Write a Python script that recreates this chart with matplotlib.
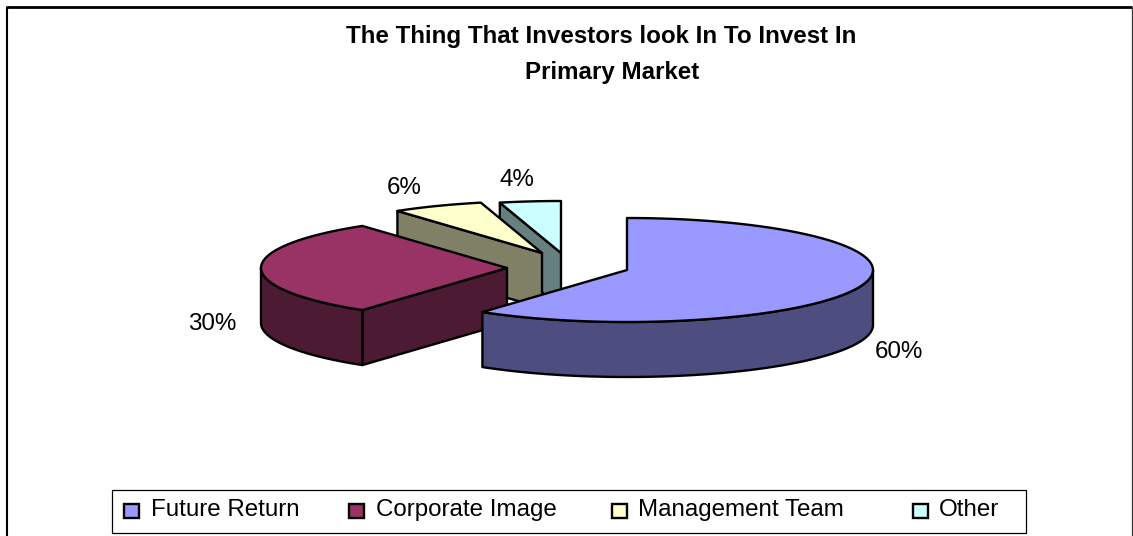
# plot.py
import numpy as np
import matplotlib
matplotlib.use("Agg")
import matplotlib.pyplot as plt
from matplotlib.patches import Polygon, Rectangle

plt.rcParams['font.family'] = ['Liberation Sans', 'DejaVu Sans']

categories = ["Future Return", "Corporate Image", "Management Team", "Other"]
values = [60, 30, 6, 4]
percent_labels = ["60%", "30%", "6%", "4%"]
title_lines = ["The Thing That Investors look In To Invest In", "Primary Market"]

top_colors = ["#9999FF", "#993366", "#FFFFCC", "#CCFFFF"]
side_colors = ["#4D4D80", "#4D1A33", "#808066", "#668080"]

# layout in pixels of the original image
centers = [(627, 270), (507, 268), (542, 253), (561, 253)]
RX, RY, DEPTH = 246, 52, 55
label_pos = [(899, 352), (212, 324), (404, 188), (517, 180)]
swatch_x = [124, 349, 612, 913]
text_x = [151, 376, 638, 939]
EDGE = 1.7


def rim(cx, cy, a0, a1, dy=0):
    # angles run clockwise from 12 o'clock, in degrees
    t = np.radians(np.linspace(a0, a1, 80))
    return np.column_stack([cx + RX * np.sin(t), cy + dy - RY * np.cos(t)])


fig = plt.figure(figsize=(11.33, 5.36), dpi=100)
ax = fig.add_axes([0, 0, 1, 1])
ax.set_xlim(0, 1133)
ax.set_ylim(536, 0)
ax.axis("off")

# chart frame, bottom edge is cut off in the picture
ax.plot([6.5, 6.5], [540, 7], color="black", lw=1.5, solid_capstyle="butt")
ax.plot([5.5, 1132], [7, 7], color="black", lw=2, solid_capstyle="butt")
ax.plot([1131.5, 1131.5], [7, 540], color="#333333", lw=0.9, solid_capstyle="butt")

stops = np.cumsum([0] + values) * 3.6

# back slices first so that the big one covers them
for i in reversed(range(len(values))):
    a0, a1 = stops[i], stops[i + 1]
    cx, cy = centers[i]
    z = 10 + (len(values) - i)

    # flat cut face, only the one turned towards the viewer
    if 180 < a0 < 360:
        p = rim(cx, cy, a0, a0)[0]
        face = [p, (cx, cy), (cx, cy + DEPTH), (p[0], p[1] + DEPTH)]
        ax.add_patch(Polygon(face, fc=side_colors[i], ec="black", lw=EDGE, zorder=z, joinstyle="round"))

    # curved wall, front half only
    lo, hi = max(a0, 90), min(a1, 270)
    if lo < hi:
        upper = rim(cx, cy, lo, hi)
        lower = rim(cx, cy, lo, hi, DEPTH)[::-1]
        ax.add_patch(Polygon(np.vstack([upper, lower]), fc=side_colors[i], ec="black", lw=EDGE, zorder=z, joinstyle="round"))

    top = np.vstack([[(cx, cy)], rim(cx, cy, a0, a1)])
    ax.add_patch(Polygon(top, fc=top_colors[i], ec="black", lw=EDGE, zorder=z, joinstyle="round"))

for (x, y), s in zip(label_pos, percent_labels):
    ax.text(x, y, s, fontsize=17.4, ha="center", va="center", zorder=20)

ax.text(601.5, 37, title_lines[0], fontsize=17.4, fontweight="bold", ha="center", va="center")
ax.text(612, 73, title_lines[1], fontsize=17.4, fontweight="bold", ha="center", va="center")

# legend box
ax.add_patch(Rectangle((112, 490), 914, 43, fc="white", ec="black", lw=0.9, zorder=20))
for i, name in enumerate(categories):
    ax.add_patch(Rectangle((swatch_x[i], 503.5), 15, 14.5, fc=top_colors[i], ec="black", lw=1.7, zorder=21))
    ax.text(text_x[i], 510, name, fontsize=17.4, ha="left", va="center", zorder=21)

fig.savefig("out.png", dpi=100)
plt.close(fig)
